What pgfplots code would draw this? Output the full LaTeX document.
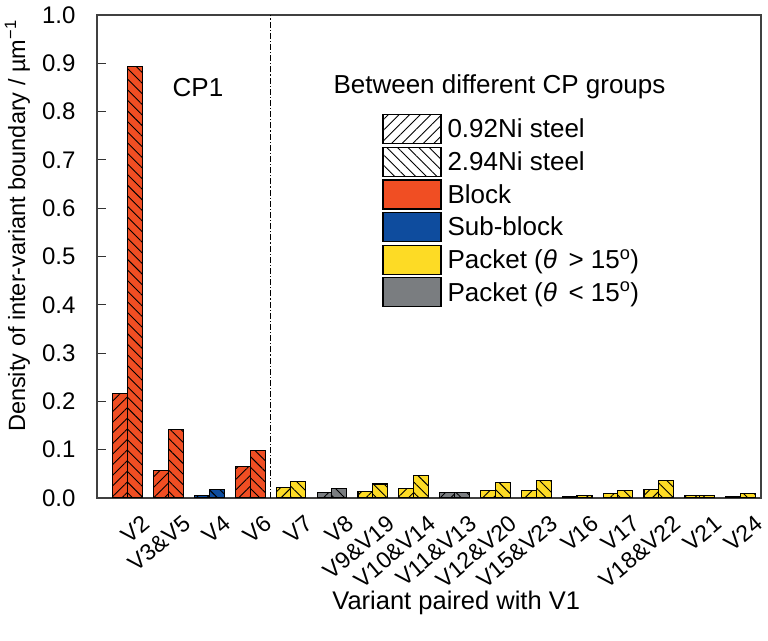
\documentclass[border=0pt]{standalone}
\usepackage{fontspec}
\setmainfont{Liberation Sans}
\usepackage{pgfplots}
\pgfplotsset{compat=1.18}
\usetikzlibrary{patterns.meta}

\definecolor{blockred}{RGB}{240,78,35}
\definecolor{subblue}{RGB}{14,76,158}
\definecolor{pkyellow}{RGB}{253,219,37}
\definecolor{pkgray}{RGB}{122,125,128}

\tikzset{
  hatchA/.style={postaction={pattern={Lines[angle=45,distance=7.5pt,line width=0.9pt]}}},
  hatchB/.style={postaction={pattern={Lines[angle=-45,distance=7.5pt,line width=0.9pt]}}},
}
\pgfplotsset{
  boxleg/.style={legend image code/.code={\draw[line width=1.1pt,##1] (0pt,-14.5pt) rectangle (58pt,14.5pt);}},
  steelA/.style={bar shift=-0.18, draw=black, line width=1.1pt, forget plot},
  steelB/.style={bar shift=0.18, draw=black, line width=1.1pt, forget plot},
}

\begin{document}
\begin{tikzpicture}[font=\fontsize{26}{30}\selectfont]
\begin{axis}[
    scale only axis,
    width=664pt, height=483pt,
    ybar, bar width=0.367,
    xmin=-0.75, xmax=15.5,
    ymin=0, ymax=1,
    ytick={0,0.1,...,1.0},
    yticklabel style={font=\fontsize{24}{28}\selectfont, xshift=-18pt, /pgf/number format/.cd, fixed, fixed zerofill, precision=1, assume math mode=true},
    xtick={0,...,15},
    xticklabels={V2, V3\&V5, V4, V6, V7, V8, V9\&V19, V10\&V14, V11\&V13, V12\&V20, V15\&V23, V16, V17, V18\&V22, V21, V24},
    x tick label style={font=\fontsize{23}{27}\selectfont, inner sep=0pt, xshift=13pt, yshift=-16pt, rotate=40, anchor=north east},
    xtick style={draw=none},
    ytick pos=left, tick align=inside,
    major tick length=9pt,
    ytick style={line width=0.8pt, black!80},
    axis line style={line width=1.2pt, black!75},
    every axis y label/.style={at={(axis description cs:-0.12,0.563)}, rotate=90, anchor=center, font=\fontsize{23.5}{27}\selectfont},
    every axis x label/.style={at={(axis description cs:0.541,-0.217)}, anchor=center, font=\fontsize{25.5}{29}\selectfont},
    ylabel={Density of inter-variant boundary / µm\textsuperscript{−1}},
    xlabel={Variant paired with V1},
    legend style={at={(0.425,0.799)}, anchor=north west, draw=none, fill=none,
      row sep=2.5pt, column sep=5pt, nodes={inner sep=1pt, anchor=west}},
    legend cell align=left,
]
% 0.92Ni steel (left bar, / hatch)
\addplot[steelA, fill=blockred, hatchA] coordinates {(0,0.217) (1,0.057) (3,0.066)};
\addplot[steelA, fill=subblue, hatchA] coordinates {(2,0.006)};
\addplot[steelA, fill=pkyellow, hatchA] coordinates {(4,0.021) (6,0.013) (7,0.020) (9,0.015) (10,0.016) (11,0.002) (12,0.009) (13,0.017) (14,0.005) (15,0.002)};
\addplot[steelA, fill=pkgray, hatchA] coordinates {(5,0.012) (8,0.012)};
% 2.94Ni steel (right bar, \ hatch)
\addplot[steelB, fill=blockred, hatchB] coordinates {(0,0.893) (1,0.142) (3,0.098)};
\addplot[steelB, fill=subblue, hatchB] coordinates {(2,0.017)};
\addplot[steelB, fill=pkyellow, hatchB] coordinates {(4,0.035) (6,0.029) (7,0.047) (9,0.033) (10,0.037) (11,0.006) (12,0.015) (13,0.036) (14,0.006) (15,0.010)};
\addplot[steelB, fill=pkgray, hatchB] coordinates {(5,0.020) (8,0.011)};

\addlegendimage{boxleg, fill=white, hatchA}
\addlegendentry{0.92Ni steel}
\addlegendimage{boxleg, fill=white, hatchB}
\addlegendentry{2.94Ni steel}
\addlegendimage{boxleg, fill=blockred}
\addlegendentry{Block}
\addlegendimage{boxleg, fill=subblue}
\addlegendentry{Sub-block}
\addlegendimage{boxleg, fill=pkyellow}
\addlegendentry{Packet (\textit{θ} \,> 15\textsuperscript{o})}
\addlegendimage{boxleg, fill=pkgray}
\addlegendentry{Packet (\textit{θ} \,< 15\textsuperscript{o})}

\draw[line width=0.9pt, dash pattern=on 6pt off 2pt on 1.2pt off 2pt] (axis cs:3.5,0) -- (axis cs:3.5,1);
\node at (axis cs:1.72,0.849) {CP1};
\node at (axis cs:9.10,0.852) {Between different CP groups};

\coordinate (sw) at (rel axis cs:0,0);
\coordinate (ne) at (rel axis cs:1,1);
\end{axis}
\pgfresetboundingbox
\path ([xshift=-97pt,yshift=-143pt]sw) rectangle ([xshift=7pt,yshift=15pt]ne);
\end{tikzpicture}
\end{document}
